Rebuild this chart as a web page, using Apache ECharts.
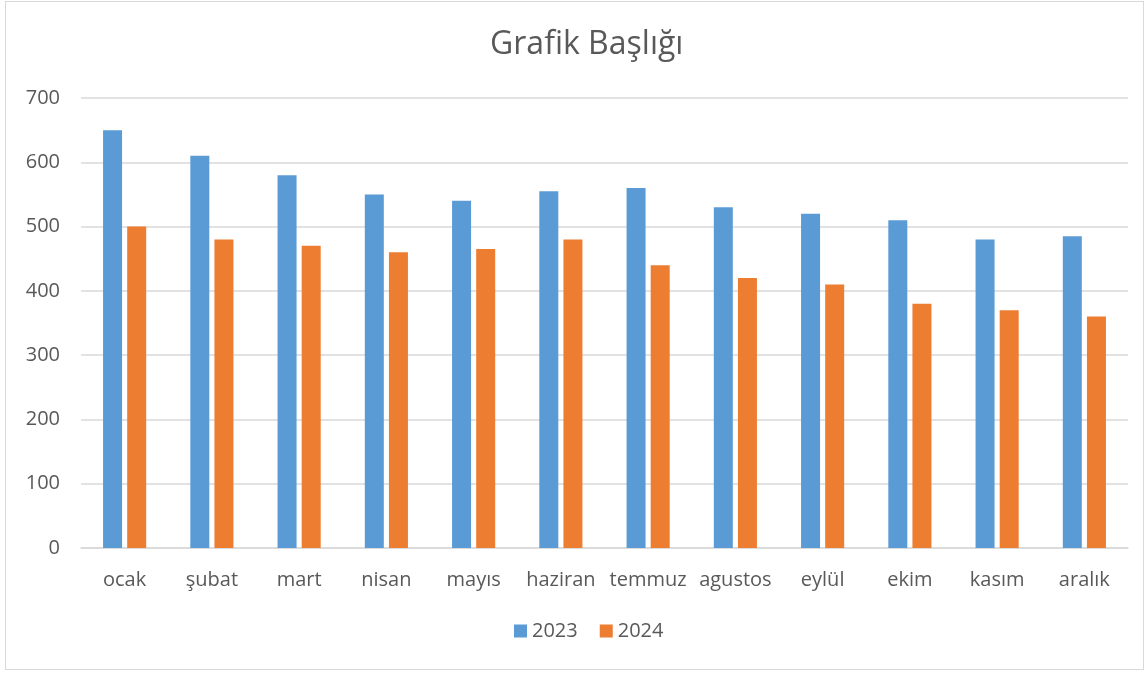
<!DOCTYPE html>
<html>
<head>
<meta charset="utf-8">
<script src="https://cdn.jsdelivr.net/npm/echarts@6/dist/echarts.min.js"></script>
<style>
  html, body { margin: 0; padding: 0; background: #fff; }
  #frame { position: absolute; left: 5px; top: 1px; width: 1139px; height: 669px; border: 1px solid #d9d9d9; box-sizing: border-box; }
  #chart { width: 1147px; height: 675px; }
</style>
</head>
<body>
<div id="frame"></div>
<div id="chart"></div>
<script>
const months = ['ocak', 'şubat', 'mart', 'nisan', 'mayıs', 'haziran', 'temmuz', 'agustos', 'eylül', 'ekim', 'kasım', 'aralık']
const values2023 = [650, 610, 580, 550, 540, 555, 560, 530, 520, 510, 480, 485]
const values2024 = [500, 480, 470, 460, 465, 480, 440, 420, 410, 380, 370, 360]

const font = '"Open Sans", "Noto Sans", sans-serif'
const chart = echarts.init(document.getElementById('chart'))

chart.setOption({
  animation: false,
  textStyle: { fontFamily: font },
  title: {
    text: 'Grafik Başlığı',
    left: 485,
    top: 24,
    textStyle: { fontFamily: font, fontSize: 32, fontWeight: 'normal', color: '#595959' }
  },
  legend: {
    data: ['2023', '2024'],
    bottom: 29,
    left: 509,
    icon: 'rect',
    itemWidth: 13,
    itemHeight: 13,
    itemGap: 22,
    textStyle: { fontFamily: font, fontSize: 20, color: '#595959' }
  },
  grid: { left: 81, right: 19, top: 98, bottom: 127 },
  xAxis: {
    type: 'category',
    data: months,
    axisLine: { lineStyle: { color: '#d9d9d9', width: 1.5 } },
    axisTick: { show: false },
    axisLabel: { interval: 0, fontFamily: font, fontSize: 20, color: '#595959', margin: 22 }
  },
  yAxis: {
    type: 'value',
    min: 0,
    max: 700,
    interval: 100,
    axisLine: { show: false },
    axisTick: { show: false },
    splitLine: { lineStyle: { color: '#d9d9d9', width: 1.5 } },
    axisLabel: { fontFamily: font, fontSize: 20, color: '#595959', margin: 21 }
  },
  series: [
    {
      name: '2023',
      type: 'bar',
      data: values2023,
      barWidth: 19,
      barGap: '27%',
      itemStyle: { color: '#5b9bd5' }
    },
    {
      name: '2024',
      type: 'bar',
      data: values2024,
      barWidth: 19,
      itemStyle: { color: '#ed7d31' }
    }
  ]
})
</script>
</body>
</html>
